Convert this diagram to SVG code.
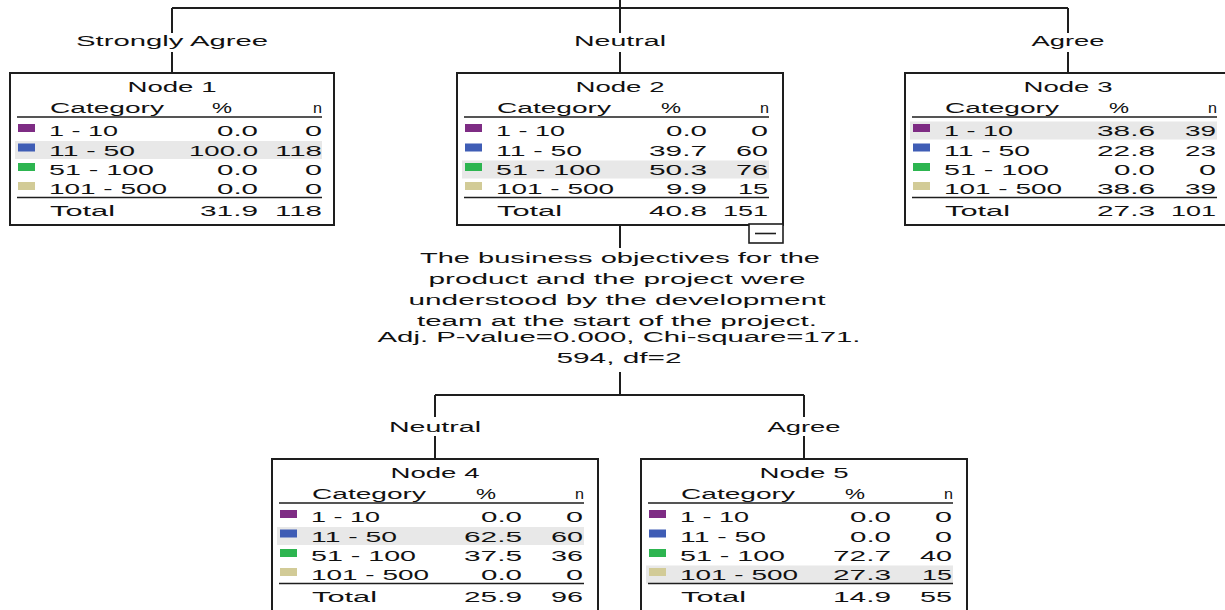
<svg xmlns="http://www.w3.org/2000/svg" width="1225" height="610" viewBox="0 0 1225 610">
<defs>
<style>
.t{font-family:"Liberation Sans",Arial,sans-serif;font-size:14px;fill:#111}
.m{text-anchor:middle}
.e{text-anchor:end}
.box{fill:#fff;stroke:#1e1e1e;stroke-width:2}
.ln{stroke:#1e1e1e;stroke-width:1.6;fill:none}
.con{stroke:#1e1e1e;stroke-width:2;fill:none}
.hl{fill:#e8e8e8}
.c1{fill:#7e2c84}.c2{fill:#3f5db5}.c3{fill:#2db550}.c4{fill:#d2cb97}
</style>
</defs>
<rect width="1225" height="610" fill="#fff"/>
<g id="connectors">
<path class="con" d="M620,0V8M172,8H1068M172,8V33M172,52V73M620,8V33M620,52V73M1068,8V33M1068,52V73"/>
<path class="con" d="M620,225V248M620,372V395M435,395H804M435,395V417M435,436V459M804,395V417M804,436V459"/>
<text class="t m" x="172" y="46" textLength="192" lengthAdjust="spacingAndGlyphs">Strongly Agree</text>
<text class="t m" x="620" y="46" textLength="92" lengthAdjust="spacingAndGlyphs">Neutral</text>
<text class="t m" x="1068" y="46" textLength="73" lengthAdjust="spacingAndGlyphs">Agree</text>
<text class="t m" x="435" y="432" textLength="92" lengthAdjust="spacingAndGlyphs">Neutral</text>
<text class="t m" x="804" y="432" textLength="73" lengthAdjust="spacingAndGlyphs">Agree</text>
</g>
<g id="split-label">
<text class="t m" x="620" y="263" textLength="400" lengthAdjust="spacingAndGlyphs">The business objectives for the</text>
<text class="t m" x="617" y="284" textLength="377" lengthAdjust="spacingAndGlyphs">product and the project were</text>
<text class="t m" x="617" y="305" textLength="417" lengthAdjust="spacingAndGlyphs">understood by the development</text>
<text class="t m" x="617" y="326" textLength="400" lengthAdjust="spacingAndGlyphs">team at the start of the project.</text>
<text class="t m" x="619" y="342" textLength="483" lengthAdjust="spacingAndGlyphs">Adj. P-value=0.000, Chi-square=171.</text>
<text class="t m" x="619" y="363" textLength="125" lengthAdjust="spacingAndGlyphs">594, df=2</text>
</g>

<g id="node1" transform="translate(10,73)">
<rect class="box" x="0" y="0" width="324" height="152"/>
<rect class="hl" x="5" y="68" width="307" height="18"/>
<text class="t m" x="162" y="19" textLength="89" lengthAdjust="spacingAndGlyphs">Node 1</text>
<text class="t" x="40" y="40" textLength="114" lengthAdjust="spacingAndGlyphs">Category</text>
<text class="t m" x="212" y="40" textLength="20" lengthAdjust="spacingAndGlyphs">%</text>
<text class="t e" x="312" y="40" textLength="9" lengthAdjust="spacingAndGlyphs">n</text>
<path class="ln" d="M7,44H312M7,124.5H312"/>
<rect class="c1" x="8" y="51" width="17" height="8"/>
<rect class="c2" x="8" y="70.5" width="17" height="8"/>
<rect class="c3" x="8" y="90" width="17" height="8"/>
<rect class="c4" x="8" y="109" width="17" height="8"/>
<text class="t" x="39" y="63" textLength="69" lengthAdjust="spacingAndGlyphs">1 - 10</text>
<text class="t e" x="248" y="63" textLength="41" lengthAdjust="spacingAndGlyphs">0.0</text>
<text class="t e" x="312" y="63" textLength="17" lengthAdjust="spacingAndGlyphs">0</text>
<text class="t" x="39" y="82.5" textLength="86" lengthAdjust="spacingAndGlyphs">11 - 50</text>
<text class="t e" x="248" y="82.5" textLength="69" lengthAdjust="spacingAndGlyphs">100.0</text>
<text class="t e" x="312" y="82.5" textLength="47" lengthAdjust="spacingAndGlyphs">118</text>
<text class="t" x="39" y="102" textLength="105" lengthAdjust="spacingAndGlyphs">51 - 100</text>
<text class="t e" x="248" y="102" textLength="41" lengthAdjust="spacingAndGlyphs">0.0</text>
<text class="t e" x="312" y="102" textLength="17" lengthAdjust="spacingAndGlyphs">0</text>
<text class="t" x="39" y="121" textLength="118" lengthAdjust="spacingAndGlyphs">101 - 500</text>
<text class="t e" x="248" y="121" textLength="41" lengthAdjust="spacingAndGlyphs">0.0</text>
<text class="t e" x="312" y="121" textLength="17" lengthAdjust="spacingAndGlyphs">0</text>
<text class="t" x="40" y="143" textLength="65" lengthAdjust="spacingAndGlyphs">Total</text>
<text class="t e" x="248" y="143" textLength="58" lengthAdjust="spacingAndGlyphs">31.9</text>
<text class="t e" x="312" y="143" textLength="47" lengthAdjust="spacingAndGlyphs">118</text>
</g>

<g id="node2" transform="translate(457,73)">
<rect class="box" x="0" y="0" width="326" height="152"/>
<rect class="hl" x="5" y="87.5" width="307" height="18"/>
<text class="t m" x="163" y="19" textLength="89" lengthAdjust="spacingAndGlyphs">Node 2</text>
<text class="t" x="40" y="40" textLength="114" lengthAdjust="spacingAndGlyphs">Category</text>
<text class="t m" x="214" y="40" textLength="20" lengthAdjust="spacingAndGlyphs">%</text>
<text class="t e" x="312" y="40" textLength="9" lengthAdjust="spacingAndGlyphs">n</text>
<path class="ln" d="M7,44H312M7,124.5H312"/>
<rect class="c1" x="8" y="51" width="17" height="8"/>
<rect class="c2" x="8" y="70.5" width="17" height="8"/>
<rect class="c3" x="8" y="90" width="17" height="8"/>
<rect class="c4" x="8" y="109" width="17" height="8"/>
<text class="t" x="39" y="63" textLength="69" lengthAdjust="spacingAndGlyphs">1 - 10</text>
<text class="t e" x="250" y="63" textLength="41" lengthAdjust="spacingAndGlyphs">0.0</text>
<text class="t e" x="311" y="63" textLength="17" lengthAdjust="spacingAndGlyphs">0</text>
<text class="t" x="39" y="82.5" textLength="86" lengthAdjust="spacingAndGlyphs">11 - 50</text>
<text class="t e" x="250" y="82.5" textLength="58" lengthAdjust="spacingAndGlyphs">39.7</text>
<text class="t e" x="311" y="82.5" textLength="32" lengthAdjust="spacingAndGlyphs">60</text>
<text class="t" x="39" y="102" textLength="105" lengthAdjust="spacingAndGlyphs">51 - 100</text>
<text class="t e" x="250" y="102" textLength="58" lengthAdjust="spacingAndGlyphs">50.3</text>
<text class="t e" x="311" y="102" textLength="32" lengthAdjust="spacingAndGlyphs">76</text>
<text class="t" x="39" y="121" textLength="118" lengthAdjust="spacingAndGlyphs">101 - 500</text>
<text class="t e" x="250" y="121" textLength="41" lengthAdjust="spacingAndGlyphs">9.9</text>
<text class="t e" x="311" y="121" textLength="30" lengthAdjust="spacingAndGlyphs">15</text>
<text class="t" x="40" y="143" textLength="65" lengthAdjust="spacingAndGlyphs">Total</text>
<text class="t e" x="250" y="143" textLength="58" lengthAdjust="spacingAndGlyphs">40.8</text>
<text class="t e" x="311" y="143" textLength="45" lengthAdjust="spacingAndGlyphs">151</text>
<rect x="292" y="151" width="34" height="19" fill="#fff" stroke="#1e1e1e" stroke-width="1.6"/>
<path class="ln" d="M298,160.5H319"/>
</g>

<g id="node3" transform="translate(905,73)">
<rect class="box" x="0" y="0" width="326" height="152"/>
<rect class="hl" x="5" y="48.5" width="307" height="18"/>
<text class="t m" x="163" y="19" textLength="89" lengthAdjust="spacingAndGlyphs">Node 3</text>
<text class="t" x="40" y="40" textLength="114" lengthAdjust="spacingAndGlyphs">Category</text>
<text class="t m" x="214" y="40" textLength="20" lengthAdjust="spacingAndGlyphs">%</text>
<text class="t e" x="312" y="40" textLength="9" lengthAdjust="spacingAndGlyphs">n</text>
<path class="ln" d="M7,44H312M7,124.5H312"/>
<rect class="c1" x="8" y="51" width="17" height="8"/>
<rect class="c2" x="8" y="70.5" width="17" height="8"/>
<rect class="c3" x="8" y="90" width="17" height="8"/>
<rect class="c4" x="8" y="109" width="17" height="8"/>
<text class="t" x="39" y="63" textLength="69" lengthAdjust="spacingAndGlyphs">1 - 10</text>
<text class="t e" x="250" y="63" textLength="58" lengthAdjust="spacingAndGlyphs">38.6</text>
<text class="t e" x="311" y="63" textLength="31" lengthAdjust="spacingAndGlyphs">39</text>
<text class="t" x="39" y="82.5" textLength="86" lengthAdjust="spacingAndGlyphs">11 - 50</text>
<text class="t e" x="250" y="82.5" textLength="58" lengthAdjust="spacingAndGlyphs">22.8</text>
<text class="t e" x="311" y="82.5" textLength="31" lengthAdjust="spacingAndGlyphs">23</text>
<text class="t" x="39" y="102" textLength="105" lengthAdjust="spacingAndGlyphs">51 - 100</text>
<text class="t e" x="250" y="102" textLength="41" lengthAdjust="spacingAndGlyphs">0.0</text>
<text class="t e" x="311" y="102" textLength="17" lengthAdjust="spacingAndGlyphs">0</text>
<text class="t" x="39" y="121" textLength="118" lengthAdjust="spacingAndGlyphs">101 - 500</text>
<text class="t e" x="250" y="121" textLength="58" lengthAdjust="spacingAndGlyphs">38.6</text>
<text class="t e" x="311" y="121" textLength="31" lengthAdjust="spacingAndGlyphs">39</text>
<text class="t" x="40" y="143" textLength="65" lengthAdjust="spacingAndGlyphs">Total</text>
<text class="t e" x="250" y="143" textLength="58" lengthAdjust="spacingAndGlyphs">27.3</text>
<text class="t e" x="311" y="143" textLength="45" lengthAdjust="spacingAndGlyphs">101</text>
</g>

<g id="node4" transform="translate(272,459)">
<rect class="box" x="0" y="0" width="326" height="160"/>
<rect class="hl" x="5" y="68" width="307" height="18"/>
<text class="t m" x="163" y="19" textLength="89" lengthAdjust="spacingAndGlyphs">Node 4</text>
<text class="t" x="40" y="40" textLength="114" lengthAdjust="spacingAndGlyphs">Category</text>
<text class="t m" x="214" y="40" textLength="20" lengthAdjust="spacingAndGlyphs">%</text>
<text class="t e" x="312" y="40" textLength="9" lengthAdjust="spacingAndGlyphs">n</text>
<path class="ln" d="M7,44H312M7,124.5H312"/>
<rect class="c1" x="8" y="51" width="17" height="8"/>
<rect class="c2" x="8" y="70.5" width="17" height="8"/>
<rect class="c3" x="8" y="90" width="17" height="8"/>
<rect class="c4" x="8" y="109" width="17" height="8"/>
<text class="t" x="39" y="63" textLength="69" lengthAdjust="spacingAndGlyphs">1 - 10</text>
<text class="t e" x="250" y="63" textLength="41" lengthAdjust="spacingAndGlyphs">0.0</text>
<text class="t e" x="311" y="63" textLength="17" lengthAdjust="spacingAndGlyphs">0</text>
<text class="t" x="39" y="82.5" textLength="86" lengthAdjust="spacingAndGlyphs">11 - 50</text>
<text class="t e" x="250" y="82.5" textLength="58" lengthAdjust="spacingAndGlyphs">62.5</text>
<text class="t e" x="311" y="82.5" textLength="32" lengthAdjust="spacingAndGlyphs">60</text>
<text class="t" x="39" y="102" textLength="105" lengthAdjust="spacingAndGlyphs">51 - 100</text>
<text class="t e" x="250" y="102" textLength="58" lengthAdjust="spacingAndGlyphs">37.5</text>
<text class="t e" x="311" y="102" textLength="32" lengthAdjust="spacingAndGlyphs">36</text>
<text class="t" x="39" y="121" textLength="118" lengthAdjust="spacingAndGlyphs">101 - 500</text>
<text class="t e" x="250" y="121" textLength="41" lengthAdjust="spacingAndGlyphs">0.0</text>
<text class="t e" x="311" y="121" textLength="17" lengthAdjust="spacingAndGlyphs">0</text>
<text class="t" x="40" y="143" textLength="65" lengthAdjust="spacingAndGlyphs">Total</text>
<text class="t e" x="250" y="143" textLength="58" lengthAdjust="spacingAndGlyphs">25.9</text>
<text class="t e" x="311" y="143" textLength="32" lengthAdjust="spacingAndGlyphs">96</text>
</g>

<g id="node5" transform="translate(641,459)">
<rect class="box" x="0" y="0" width="326" height="160"/>
<rect class="hl" x="5" y="106.5" width="307" height="18"/>
<text class="t m" x="163" y="19" textLength="89" lengthAdjust="spacingAndGlyphs">Node 5</text>
<text class="t" x="40" y="40" textLength="114" lengthAdjust="spacingAndGlyphs">Category</text>
<text class="t m" x="214" y="40" textLength="20" lengthAdjust="spacingAndGlyphs">%</text>
<text class="t e" x="312" y="40" textLength="9" lengthAdjust="spacingAndGlyphs">n</text>
<path class="ln" d="M7,44H312M7,124.5H312"/>
<rect class="c1" x="8" y="51" width="17" height="8"/>
<rect class="c2" x="8" y="70.5" width="17" height="8"/>
<rect class="c3" x="8" y="90" width="17" height="8"/>
<rect class="c4" x="8" y="109" width="17" height="8"/>
<text class="t" x="39" y="63" textLength="69" lengthAdjust="spacingAndGlyphs">1 - 10</text>
<text class="t e" x="250" y="63" textLength="41" lengthAdjust="spacingAndGlyphs">0.0</text>
<text class="t e" x="311" y="63" textLength="17" lengthAdjust="spacingAndGlyphs">0</text>
<text class="t" x="39" y="82.5" textLength="86" lengthAdjust="spacingAndGlyphs">11 - 50</text>
<text class="t e" x="250" y="82.5" textLength="41" lengthAdjust="spacingAndGlyphs">0.0</text>
<text class="t e" x="311" y="82.5" textLength="17" lengthAdjust="spacingAndGlyphs">0</text>
<text class="t" x="39" y="102" textLength="105" lengthAdjust="spacingAndGlyphs">51 - 100</text>
<text class="t e" x="250" y="102" textLength="58" lengthAdjust="spacingAndGlyphs">72.7</text>
<text class="t e" x="311" y="102" textLength="32" lengthAdjust="spacingAndGlyphs">40</text>
<text class="t" x="39" y="121" textLength="118" lengthAdjust="spacingAndGlyphs">101 - 500</text>
<text class="t e" x="250" y="121" textLength="58" lengthAdjust="spacingAndGlyphs">27.3</text>
<text class="t e" x="311" y="121" textLength="30" lengthAdjust="spacingAndGlyphs">15</text>
<text class="t" x="40" y="143" textLength="65" lengthAdjust="spacingAndGlyphs">Total</text>
<text class="t e" x="250" y="143" textLength="58" lengthAdjust="spacingAndGlyphs">14.9</text>
<text class="t e" x="311" y="143" textLength="32" lengthAdjust="spacingAndGlyphs">55</text>
</g>
</svg>
